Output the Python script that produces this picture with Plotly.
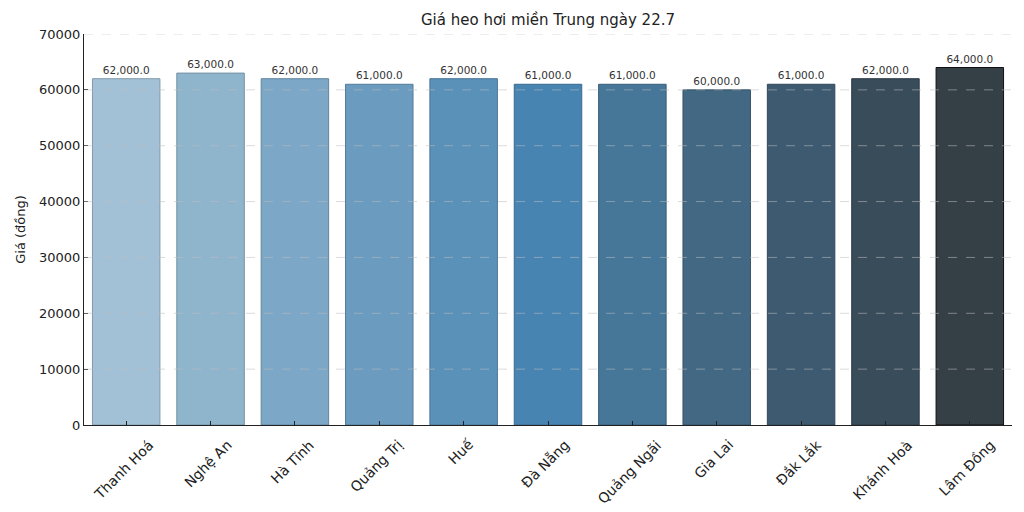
import plotly.graph_objects as go

provinces = ["Thanh Hoá", "Nghệ An", "Hà Tĩnh", "Quảng Trị", "Huế", "Đà Nẵng",
             "Quảng Ngãi", "Gia Lai", "Đắk Lắk", "Khánh Hoà", "Lâm Đồng"]
prices = [62000, 63000, 62000, 61000, 62000, 61000, 61000, 60000, 61000, 62000, 64000]
y_ticks = [0, 10000, 20000, 30000, 40000, 50000, 60000, 70000]

bar_colors = ["#a3c1d6", "#8fb5cd", "#7ca7c6", "#6b9bbe", "#5a91b9", "#4884b2",
              "#467698", "#426883", "#3d5a70", "#394c5a", "#353f46"]


def darken(hex_color, f=0.8):
    h = hex_color.lstrip("#")
    r, g, b = (int(h[i:i + 2], 16) for i in (0, 2, 4))
    return "rgb(%d,%d,%d)" % (r * f, g * f, b * f)


edge_colors = [darken(c) for c in bar_colors]
edge_colors[-1] = "#111111"

FONT = "DejaVu Sans"

# page body has an 8px margin, so the figure is sized to fit inside the window
W, H = 1016, 504

fig = go.Figure()
fig.add_trace(go.Bar(
    x=list(range(len(provinces))),
    y=prices,
    width=0.8,
    marker=dict(color=bar_colors, line=dict(color=edge_colors, width=1)),
    text=[f"{v:,.1f}" for v in prices],
    textposition="outside",
    textfont=dict(family=FONT, size=10.5, color="#333333"),
    cliponaxis=False,
    hoverinfo="x+y",
))

# dashed grid drawn above the bars, from the tick values
for t in y_ticks[1:]:
    fig.add_shape(type="line", xref="paper", yref="y", x0=0, x1=1, y0=t, y1=t,
                  line=dict(color="rgba(190,190,190,0.55)", width=1, dash="dash"),
                  layer="above")

# rotated category labels centred under each tick
for i, name in enumerate(provinces):
    fig.add_annotation(x=i, y=0, xref="x", yref="y", text=name, showarrow=False,
                       textangle=-45, xanchor="center", yanchor="top",
                       yshift=-9, xshift=-3,
                       font=dict(family=FONT, size=14, color="#222222"))

fig.update_layout(
    width=W, height=H,
    margin=dict(l=76, r=12, t=26, b=87, autoexpand=False),
    paper_bgcolor="white", plot_bgcolor="white",
    title=dict(text="Giá heo hơi miền Trung ngày 22.7", x=0.5, xanchor="center",
               xref="paper",
               y=1 - 12 / H, yref="container", yanchor="middle",
               font=dict(family=FONT, size=15, color="#222222")),
    font=dict(family=FONT, size=13, color="#222222"),
    showlegend=False,
    bargap=0.2,
)
fig.update_xaxes(
    automargin=False,
    range=[-0.5, len(provinces) - 0.5],
    tickmode="array", tickvals=list(range(len(provinces))), ticktext=[""] * len(provinces),
    ticks="inside", ticklen=4, tickcolor="#222222",
    showline=True, linecolor="#222222", linewidth=1, showgrid=False, zeroline=False,
)
fig.update_yaxes(
    automargin=False,
    range=[0, 70000], tickmode="array", tickvals=y_ticks,
    ticktext=[str(t) for t in y_ticks],
    ticks="inside", ticklen=4, tickcolor="#222222",
    showline=True, linecolor="#222222", linewidth=1,
    showgrid=False, zeroline=False,
    title=dict(text="Giá (đồng)", font=dict(family=FONT, size=13, color="#222222"), standoff=10),
    tickfont=dict(family=FONT, size=13, color="#222222"),
)

fig.write_html("out.html")
